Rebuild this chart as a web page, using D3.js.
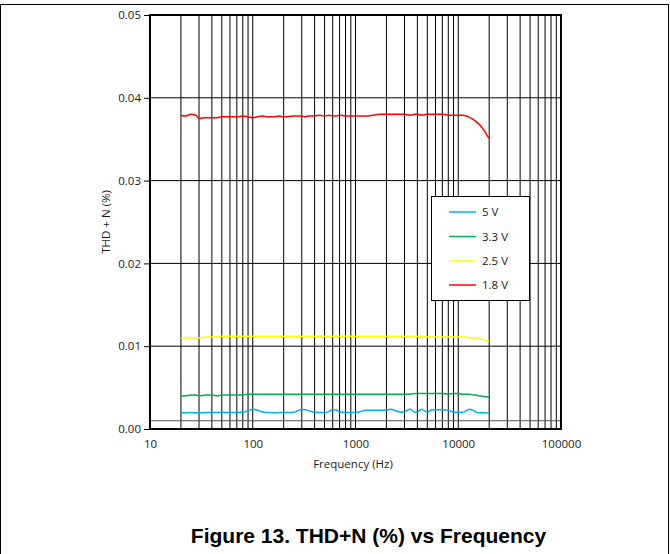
<!DOCTYPE html>
<html>
<head>
<meta charset="utf-8">
<script src="https://cdn.jsdelivr.net/npm/d3@7"></script>
<style>
  html, body { margin: 0; padding: 0; background: #fff; }
  svg { display: block; }
  text { font-family: "Open Sans", "Noto Sans", sans-serif; fill: #1a1a1a; }
  text.figtitle { font-family: "Liberation Sans", Arial, sans-serif; font-weight: bold; fill: #000; }
</style>
</head>
<body>
<svg id="chart" width="670" height="554"></svg>
<script>
// ---- data ----
const frequencies = [20,22,25,28,30,35,40,45,50,60,70,80,90,100,110,125,140,160,180,200,
  250,300,320,350,400,450,500,550,600,650,700,800,900,1000,1100,1250,1500,1750,2000,2200,
  2500,2800,3000,3400,3800,4000,4400,5000,5500,6000,7000,8000,9000,10000,11000,12000,13000,
  14000,15000,16000,17000,18000,19000,20000];

const thd5V = [0.00197,0.00197,0.00198,0.00197,0.00197,0.00198,0.00199,0.00198,0.00201,0.00199,
  0.00199,0.00201,0.00222,0.00238,0.00230,0.00205,0.00198,0.00197,0.00198,0.00199,
  0.00203,0.00236,0.00236,0.00222,0.00201,0.00199,0.00199,0.00210,0.00236,0.00230,
  0.00208,0.00200,0.00199,0.00200,0.00208,0.00225,0.00226,0.00225,0.00230,0.00238,
  0.00218,0.00201,0.00210,0.00238,0.00203,0.00205,0.00238,0.00203,0.00230,0.00232,
  0.00232,0.00225,0.00204,0.00200,0.00201,0.00222,0.00238,0.00222,0.00203,0.00197,
  0.00196,0.00195,0.00194,0.00193];

const thd3V3 = [0.0040,0.0040,0.0041,0.0041,0.0040,0.0041,0.0041,0.0040,0.0041,0.0041,
  0.0041,0.0041,0.0042,0.0042,0.0042,0.0042,0.0042,0.0042,0.0042,0.0042,
  0.0042,0.0042,0.0042,0.0042,0.0042,0.0042,0.0042,0.0042,0.0042,0.0042,
  0.0042,0.0042,0.0042,0.0042,0.0042,0.0042,0.0042,0.0042,0.0042,0.0042,
  0.0042,0.0042,0.0042,0.0042,0.0043,0.0043,0.0043,0.0043,0.0043,0.0043,
  0.0043,0.0042,0.0043,0.0043,0.0042,0.0042,0.0042,0.0041,0.0041,0.0040,
  0.0040,0.0039,0.0039,0.0038];

const thd2V5 = [0.0110,0.0110,0.0110,0.0110,0.0110,0.0111,0.0111,0.0111,0.0112,0.0112,
  0.0112,0.0112,0.0112,0.0112,0.0112,0.0112,0.0112,0.0112,0.0112,0.0112,
  0.0112,0.0112,0.0112,0.0112,0.0112,0.0112,0.0112,0.0112,0.0112,0.0112,
  0.0112,0.0112,0.0112,0.0112,0.0112,0.0112,0.0112,0.0112,0.0112,0.0112,
  0.0112,0.0112,0.0112,0.0112,0.0112,0.0112,0.0112,0.0111,0.0111,0.0111,
  0.0111,0.0111,0.0111,0.0111,0.0111,0.0111,0.0110,0.0110,0.0110,0.0109,
  0.0108,0.0108,0.0107,0.0106];

const thd1V8 = [0.0379,0.0378,0.0380,0.0379,0.0375,0.0376,0.0376,0.0376,0.0377,0.0377,
  0.0377,0.0378,0.0377,0.0376,0.0377,0.0378,0.0377,0.0377,0.0378,0.0377,
  0.0378,0.0378,0.0377,0.0378,0.0378,0.0379,0.0378,0.0379,0.0378,0.0378,
  0.0379,0.0378,0.0378,0.0378,0.0378,0.0378,0.0379,0.0380,0.0380,0.0380,
  0.0380,0.0380,0.0380,0.0379,0.0380,0.0380,0.0379,0.0380,0.0380,0.0380,
  0.0380,0.0379,0.0379,0.0379,0.0379,0.0378,0.0376,0.0374,0.0371,0.0368,
  0.0364,0.0360,0.0355,0.0351];

const seriesNames = ["5 V", "3.3 V", "2.5 V", "1.8 V"];
const seriesColors = ["#00B0F0", "#00B050", "#FFFF00", "#FF0000"];
const xTickValues = [10, 100, 1000, 10000, 100000];
const xTickLabels = ["10", "100", "1000", "10000", "100000"];
const yTickValues = [0, 0.01, 0.02, 0.03, 0.04, 0.05];
const yTickLabels = ["0.00", "0.01", "0.02", "0.03", "0.04", "0.05"];
const extraHGrid = [0.001];
const titleText = "Figure 13. THD+N (%) vs Frequency";
const xAxisTitle = "Frequency (Hz)";
const yAxisTitle = "THD + N (%)";

// ---- layout ----
const svg = d3.select("#chart");
const L = 150, R = 561, T = 15, B = 429;

const x = d3.scaleLog().domain([10, 100000]).range([L, R]);
const y = d3.scaleLinear().domain([0, 0.05]).range([B, T]);

// outer frame
svg.append("rect").attr("x", 0.5).attr("y", 4.5).attr("width", 668).attr("height", 560)
  .attr("fill", "none").attr("stroke", "#000").attr("stroke-width", 1);

// vertical grid (1..9 per decade)
const vGrid = [];
for (let d = 10; d < 100000; d *= 10) for (let k = 1; k <= 9; k++) vGrid.push(d * k);
vGrid.push(100000);
svg.append("g").selectAll("line").data(vGrid).join("line")
  .attr("x1", d => x(d)).attr("x2", d => x(d)).attr("y1", T).attr("y2", B)
  .attr("stroke", "#000").attr("stroke-width", 1);

// horizontal grid
svg.append("g").selectAll("line").data(yTickValues).join("line")
  .attr("x1", L).attr("x2", R).attr("y1", d => y(d)).attr("y2", d => y(d))
  .attr("stroke", "#000").attr("stroke-width", 1);
svg.append("g").selectAll("line").data(extraHGrid).join("line")
  .attr("x1", L).attr("x2", R).attr("y1", d => y(d)).attr("y2", d => y(d))
  .attr("stroke", "#555").attr("stroke-width", 1);

// plot border
svg.append("rect").attr("x", L).attr("y", T).attr("width", R - L).attr("height", B - T)
  .attr("fill", "none").attr("stroke", "#000").attr("stroke-width", 2);

// y axis
const yAxis = d3.axisLeft(y).tickValues(yTickValues)
  .tickFormat((d, i) => yTickLabels[i]).tickSize(6).tickPadding(3);
const yg = svg.append("g").attr("transform", `translate(${L},0)`).call(yAxis);
yg.select(".domain").remove();
yg.selectAll("line").attr("stroke", "#000");
yg.selectAll("text").attr("font-size", 11.5).attr("font-family", "Open Sans").attr("fill", "#1a1a1a");

// x axis
const xAxis = d3.axisBottom(x).tickValues(xTickValues)
  .tickFormat((d, i) => xTickLabels[i]).tickSize(0).tickPadding(11);
const xg = svg.append("g").attr("transform", `translate(0,${B})`).call(xAxis);
xg.select(".domain").remove();
xg.selectAll("text").attr("font-size", 11.5).attr("font-family", "Open Sans").attr("fill", "#1a1a1a");

// axis titles
svg.append("text").attr("x", 353).attr("y", 468).attr("text-anchor", "middle")
  .attr("font-size", 11.5).text(xAxisTitle);
svg.append("text").attr("transform", `translate(110,222) rotate(-90)`)
  .attr("text-anchor", "middle").attr("font-size", 11.5).text(yAxisTitle);

// series lines
const seriesData = [thd5V, thd3V3, thd2V5, thd1V8];
const line = d3.line().x(d => x(d[0])).y(d => y(d[1])).curve(d3.curveMonotoneX);
seriesData.forEach((vals, i) => {
  const pts = frequencies.map((f, j) => [f, vals[j]]);
  svg.append("path").datum(pts).attr("d", line)
    .attr("fill", "none").attr("stroke", seriesColors[i]).attr("stroke-width", 1.5);
});

// legend
const lg = svg.append("g");
lg.append("rect").attr("x", 431.5).attr("y", 196.5).attr("width", 98).attr("height", 104)
  .attr("fill", "#fff").attr("stroke", "#000").attr("stroke-width", 1);
const legendY = [212, 236.5, 261, 285];
seriesNames.forEach((name, i) => {
  lg.append("line").attr("x1", 449).attr("x2", 476).attr("y1", legendY[i]).attr("y2", legendY[i])
    .attr("stroke", seriesColors[i]).attr("stroke-width", 1.5);
  lg.append("text").attr("x", 482).attr("y", legendY[i] + 4).attr("font-size", 11.5).text(name);
});

// figure title
svg.append("text").attr("class", "figtitle").attr("x", 368.5).attr("y", 543)
  .attr("text-anchor", "middle").attr("font-size", 21).text(titleText);
</script>
</body>
</html>
